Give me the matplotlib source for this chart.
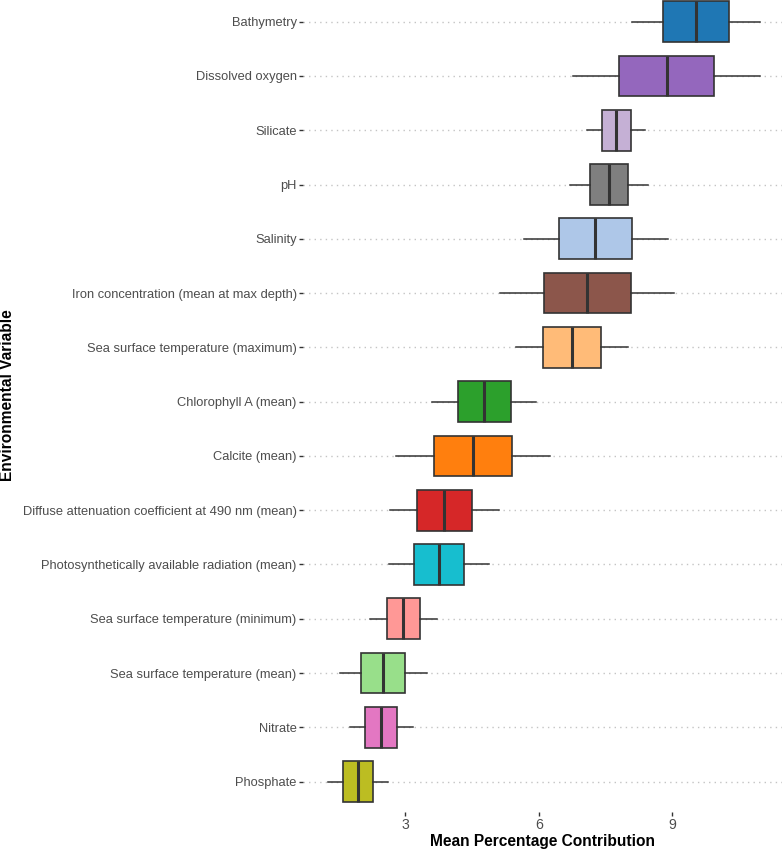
import matplotlib
matplotlib.use("Agg")
import matplotlib.pyplot as plt

categories = [
    "Bathymetry", "Dissolved oxygen", "Silicate", "pH", "Salinity",
    "Iron concentration (mean at max depth)", "Sea surface temperature (maximum)",
    "Chlorophyll A (mean)", "Calcite (mean)",
    "Diffuse attenuation coefficient at 490 nm (mean)",
    "Photosynthetically available radiation (mean)",
    "Sea surface temperature (minimum)", "Sea surface temperature (mean)",
    "Nitrate", "Phosphate",
]
whislo = [8.09, 6.78, 7.09, 6.70, 5.66, 5.14, 5.48, 3.61, 2.80, 2.66, 2.65, 2.21, 1.53, 1.77, 1.27]
q1     = [8.80, 7.81, 7.41, 7.14, 6.46, 6.12, 6.10, 4.19, 3.66, 3.27, 3.21, 2.59, 2.01, 2.11, 1.61]
med    = [9.53, 8.87, 7.74, 7.58, 7.27, 7.09, 6.75, 4.78, 4.52, 3.88, 3.77, 2.96, 2.51, 2.47, 1.95]
q3     = [10.26, 9.93, 8.07, 8.01, 8.09, 8.07, 7.39, 5.37, 5.39, 4.50, 4.33, 3.34, 3.01, 2.83, 2.29]
whishi = [10.97, 10.97, 8.39, 8.45, 8.90, 9.04, 8.01, 5.95, 6.25, 5.10, 4.89, 3.71, 3.50, 3.17, 2.62]
colors = ["#1f77b4", "#9467bd", "#c5b0d5", "#7f7f7f", "#aec7e8", "#8c564b", "#ffbb78",
          "#2ca02c", "#ff7f0e", "#d62728", "#17becf", "#ff9896", "#98df8a", "#e377c2", "#bcbd22"]
xticks = [3, 6, 9]

plt.rcParams['font.family'] = ['Liberation Sans', 'DejaVu Sans']

fig = plt.figure(figsize=(7.82, 8.52), dpi=100)
ax = fig.add_axes([303/782, 40/852, 1 - 303/782, 1 - 40/852])

n = len(categories)
positions = [n - 1 - i for i in range(n)]
stats = []
for i in range(n):
    stats.append(dict(label=categories[i], whislo=whislo[i], q1=q1[i], med=med[i],
                      q3=q3[i], whishi=whishi[i], fliers=[]))

bp = ax.bxp(stats, positions=positions, vert=False, widths=0.75, patch_artist=True,
            showcaps=False, showfliers=False,
            boxprops=dict(edgecolor="#333333", linewidth=1.2),
            medianprops=dict(color="#333333", linewidth=2.2),
            whiskerprops=dict(color="#333333", linewidth=1.1))
for patch, c in zip(bp['boxes'], colors):
    patch.set_facecolor(c)
for art in bp['boxes'] + bp['medians'] + bp['whiskers']:
    art.set_zorder(3)

ax.set_xlim(0.71, 11.46)
ax.set_ylim(-0.56, n - 1 + 0.4)
ax.set_yticks(positions)
ax.set_yticklabels(categories)
ax.set_xticks(xticks)
ax.set_xticklabels([str(t) for t in xticks])

ax.grid(axis='y', linestyle=(0, (1, 3)), color='#c4c4c4', linewidth=1.0, zorder=0)
ax.grid(axis='x', visible=False)
for s in ax.spines.values():
    s.set_visible(False)
ax.tick_params(axis='both', length=3, width=1.0, color='#333333', labelcolor='#4d4d4d', pad=2)
ax.tick_params(axis='y', labelsize=9.3, pad=1.5)
ax.tick_params(axis='x', labelsize=10.2, pad=1.5)

ax.set_xlabel("Mean Percentage Contribution", fontsize=11.2, fontweight='bold', color='black', labelpad=1)
fig.text(8/782, 1 - 395/852, "Environmental Variable", rotation=90, fontsize=11.2,
         fontweight='bold', ha='center', va='center')

fig.savefig("out.png", dpi=100)
